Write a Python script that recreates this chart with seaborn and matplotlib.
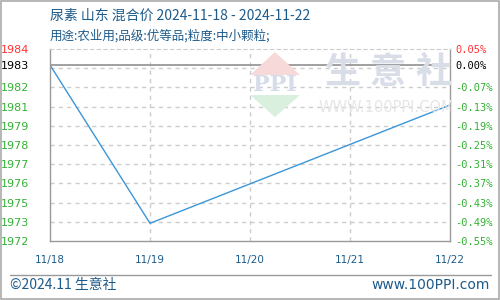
import numpy as np
import pandas as pd
import matplotlib
matplotlib.use("Agg")
import matplotlib.pyplot as plt
from matplotlib.patches import Rectangle, Polygon
import seaborn as sns

# ---- data ----
dates = ["2024-11-18", "2024-11-19", "2024-11-22"]
prices = [1983.15, 1973.34, 1980.67]
base_price = 1983.15
x_tick_labels = ["11/18", "11/19", "11/20", "11/21", "11/22"]
pct_ticks = [0.05, 0.00, -0.07, -0.13, -0.19, -0.25, -0.31, -0.37, -0.43, -0.49, -0.55]
pct_grid = [-0.01, -0.07, -0.13, -0.19, -0.25, -0.31, -0.37, -0.43, -0.49]
left_labels = ["1984", "1983", "1982", "1981", "1979", "1978", "1977", "1976", "1975", "1973", "1972"]
right_labels = ["0.05%", "0.00%", "-0.07%", "-0.13%", "-0.19%", "-0.25%", "-0.31%",
                "-0.37%", "-0.43%", "-0.49%", "-0.55%"]
title = "尿素 山东 混合价 2024-11-18 - 2024-11-22"
subtitle = "用途:农业用;品级:优等品;粒度:中小颗粒;"

sns.set_style("white")
plt.rcParams['font.family'] = ['Noto Sans CJK SC', 'DejaVu Sans']

dark_blue = "#1d5b8a"
W, H = 500, 300
fig = plt.figure(figsize=(5, 3), dpi=100)

def fx(px):
    return px / W

def fy(py):
    return 1 - py / H

ax = fig.add_axes([fx(50), fy(241), fx(450) - fx(50), fy(49) - fy(241)])

df = pd.DataFrame({"date": pd.to_datetime(dates), "price": prices})
df["day"] = (df["date"] - df["date"].iloc[0]).dt.days

to_price = lambda p: base_price * (1 + p / 100.0)
ymin, ymax = to_price(pct_ticks[-1]), to_price(pct_ticks[0])

# watermark (figure decoration)
fig.patches.append(Polygon([[fx(250), fy(75)], [fx(300), fy(75)], [fx(275), fy(52)]],
                           closed=True, transform=fig.transFigure, facecolor="#f7d9d9",
                           edgecolor="none", zorder=0))
fig.patches.append(Polygon([[fx(250), fy(95)], [fx(300), fy(95)], [fx(275), fy(117)]],
                           closed=True, transform=fig.transFigure, facecolor="#d9f0de",
                           edgecolor="none", zorder=0))
fig.text(fx(275), fy(85), "PPI", ha="center", va="center", fontsize=16, color="#d6dcea",
         family="DejaVu Serif", fontweight="bold", zorder=0)
for i, ch in enumerate("生意社"):
    fig.text(fx(343 + i * 45), fy(72), ch, ha="center", va="center", fontsize=26,
             color="#d8dde8", zorder=0, fontweight="bold")
fig.text(fx(386), fy(107), "WWW.100PPI.COM", ha="center", va="center", fontsize=10.5,
         color="#e6e6e6", family="DejaVu Sans", zorder=0)
ax.set_facecolor("none")

sns.lineplot(data=df, x="day", y="price", ax=ax, color="#3a96d8", lw=1.0)

ax.set_xlim(0, 4)
ax.set_ylim(ymin, ymax)

# grid
for p in pct_grid:
    ax.axhline(to_price(p), color="#cccccc", lw=1, ls=(0, (3, 3)), zorder=0)
for d in [1, 2, 3]:
    ax.axvline(d, color="#cccccc", lw=1, ls=(0, (3, 3)), zorder=0)
ax.axhline(base_price, color="#999999", lw=1.3, zorder=1)

for s in ["left", "bottom", "right"]:
    ax.spines[s].set_color("#999999")
    ax.spines[s].set_linewidth(1)
ax.spines["top"].set_color("#cccccc")
ax.spines["top"].set_linestyle((0, (3, 3)))

ax.set_xticks(range(len(x_tick_labels)))
ax.set_xticklabels(x_tick_labels, fontsize=7.5, color=dark_blue, family="DejaVu Sans")
ax.tick_params(axis="x", length=0, pad=10)

ytick_pos = [to_price(p) for p in pct_ticks]
ax.set_yticks(ytick_pos)
ax.set_yticklabels(left_labels, fontsize=8, family="DejaVu Sans")
ax.tick_params(axis="y", length=0, pad=15)
ax.set_xlabel("")
ax.set_ylabel("")

ax2 = ax.twinx()
ax2.set_ylim(ymin, ymax)
ax2.set_yticks(ytick_pos)
ax2.set_yticklabels(right_labels, fontsize=7.5, family="DejaVu Sans Mono")
ax2.tick_params(axis="y", length=0, pad=4)
for s in ax2.spines.values():
    s.set_visible(False)

colors = ["#ff3333", "#000000"] + ["#33b033"] * (len(pct_ticks) - 2)
for t, c in zip(ax.get_yticklabels(), colors):
    t.set_color(c)
for t, c in zip(ax2.get_yticklabels(), colors):
    t.set_color(c)

# titles
fig.text(fx(50), fy(16), title, ha="left", va="center", fontsize=10, color=dark_blue)
fig.text(fx(50), fy(36), subtitle, ha="left", va="center", fontsize=9, color=dark_blue)

# footer
fig.add_artist(plt.Line2D([fx(10), fx(491)], [fy(275), fy(275)], color="#999999", lw=1,
                          transform=fig.transFigure))
fig.text(fx(10), fy(285), "©2024.11 生意社", ha="left", va="center", fontsize=10, color=dark_blue)
fig.text(fx(490), fy(285), "www.100PPI.com", ha="right", va="center", fontsize=10,
         color=dark_blue, family="DejaVu Sans")

fig.patches.append(Rectangle((0.001, 0.002), 0.997, 0.995, transform=fig.transFigure,
                             fill=False, edgecolor="#aaaaaa", lw=1.2))

fig.savefig("out.png", dpi=100)
